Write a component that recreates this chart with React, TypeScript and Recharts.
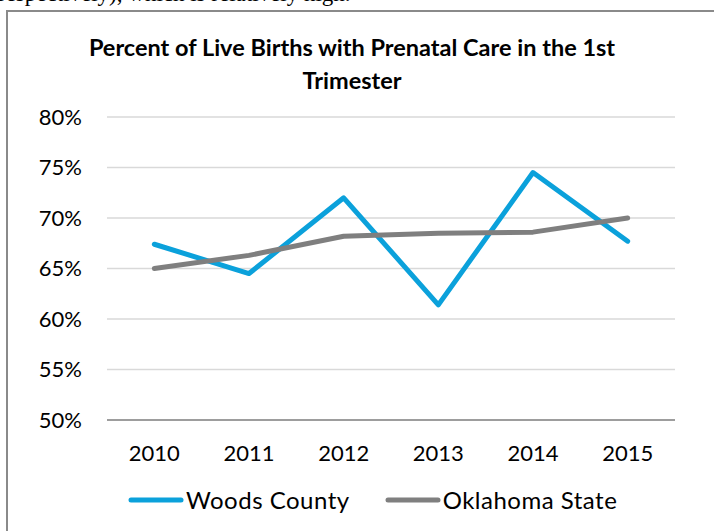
import { LineChart, Line, XAxis, YAxis, CartesianGrid, Legend } from 'recharts'

const years = ['2010', '2011', '2012', '2013', '2014', '2015']
const woodsCounty = [67.4, 64.5, 72.0, 61.4, 74.5, 67.7]
const oklahomaState = [65.0, 66.3, 68.2, 68.5, 68.6, 70.0]
const percentTicks = [50, 55, 60, 65, 70, 75, 80]
const yearCenters = [0.5, 1.5, 2.5, 3.5, 4.5, 5.5]
const boundaryTicks = [0, 1, 2, 3, 4, 5, 6]
const seriesNames = ['Woods County', 'Oklahoma State']

const BLUE = '#0BA1DB'
const GREY = '#7F7F7F'
const AXIS = '#868686'
const FONT = 'Lato, "Open Sans", sans-serif'
const seriesColors = [BLUE, GREY]

function LegendRow() {
  return (
    <div style={{ display: 'flex', alignItems: 'center', paddingLeft: 127, fontFamily: FONT, fontSize: 24, letterSpacing: 0.5, color: '#000' }}>
      {seriesNames.map((name, i) => (
        <div key={name} style={{ display: 'flex', alignItems: 'center', marginRight: 34 }}>
          <svg width={58} height={10}>
            <line x1={4} y1={5} x2={54} y2={5} stroke={seriesColors[i]} strokeWidth={5} strokeLinecap="round" />
          </svg>
          <span style={{ marginLeft: 1 }}>{name}</span>
        </div>
      ))}
    </div>
  )
}

export default function App() {
  const data = years.map((year, i) => ({
    year,
    pos: yearCenters[i],
    woods: woodsCounty[i],
    state: oklahomaState[i],
  }))

  return (
    <div style={{ position: 'absolute', left: 0, top: 0, width: 714, height: 531, overflow: 'hidden', background: '#fff' }}>
      {/* bottom of the document line above the chart */}
      <div style={{ position: 'absolute', left: -2, top: -19, fontFamily: '"Liberation Serif", serif', fontSize: 23, whiteSpace: 'nowrap', color: '#000' }}>
        respectively), which is relatively high.
      </div>
      <div style={{ position: 'absolute', left: 6, top: 10, width: 760, height: 580, border: '2px solid #8a8a8a', boxSizing: 'border-box' }} />
      <div style={{ position: 'absolute', left: 0, top: 31, width: 704, textAlign: 'center', fontFamily: FONT, fontWeight: 700, fontSize: 23.5, lineHeight: '33px', color: '#000' }}>
        Percent of Live Births with Prenatal Care in the 1st
        <br />
        Trimester
      </div>
      <div style={{ position: 'absolute', left: 0, top: 0 }}>
        <LineChart width={714} height={531} data={data} margin={{ top: 117, right: 39, bottom: 109, left: 0 }}>
          <CartesianGrid xAxisId="years" vertical={false} stroke="#D9D9D9" strokeWidth={1.5} />
          <XAxis
            xAxisId="frame"
            type="number"
            dataKey="pos"
            domain={[0, 6]}
            ticks={boundaryTicks}
            interval={0}
            tick={false}
            tickSize={7}
            height={1}
            axisLine={{ stroke: AXIS, strokeWidth: 1.5 }}
            tickLine={{ stroke: AXIS, strokeWidth: 1.5 }}
          />
          <XAxis
            xAxisId="years"
            type="number"
            dataKey="pos"
            domain={[0, 6]}
            ticks={yearCenters}
            interval={0}
            tickFormatter={(v: number) => years[Math.round(v - 0.5)]}
            axisLine={false}
            tickLine={false}
            tickSize={0}
            tickMargin={24}
            height={1}
            tick={{ fill: '#000', fontSize: 22, fontFamily: FONT }}
          />
          <YAxis
            type="number"
            domain={[50, 80]}
            ticks={percentTicks}
            interval={0}
            width={107}
            axisLine={false}
            tickLine={false}
            tickSize={0}
            tickMargin={25}
            tickFormatter={(v: number) => `${v}%`}
            tick={{ fill: '#000', fontSize: 22, fontFamily: FONT }}
          />
          <Legend layout="horizontal" verticalAlign="middle" align="center" wrapperStyle={{ top: 485, left: 0, width: 714 }} content={<LegendRow />} />
          <Line xAxisId="years" type="linear" dataKey="woods" name="Woods County" stroke={BLUE} strokeWidth={5} strokeLinecap="round" strokeLinejoin="round" dot={false} activeDot={false} isAnimationActive={false} />
          <Line xAxisId="years" type="linear" dataKey="state" name="Oklahoma State" stroke={GREY} strokeWidth={5} strokeLinecap="round" strokeLinejoin="round" dot={false} activeDot={false} isAnimationActive={false} />
        </LineChart>
      </div>
    </div>
  )
}
